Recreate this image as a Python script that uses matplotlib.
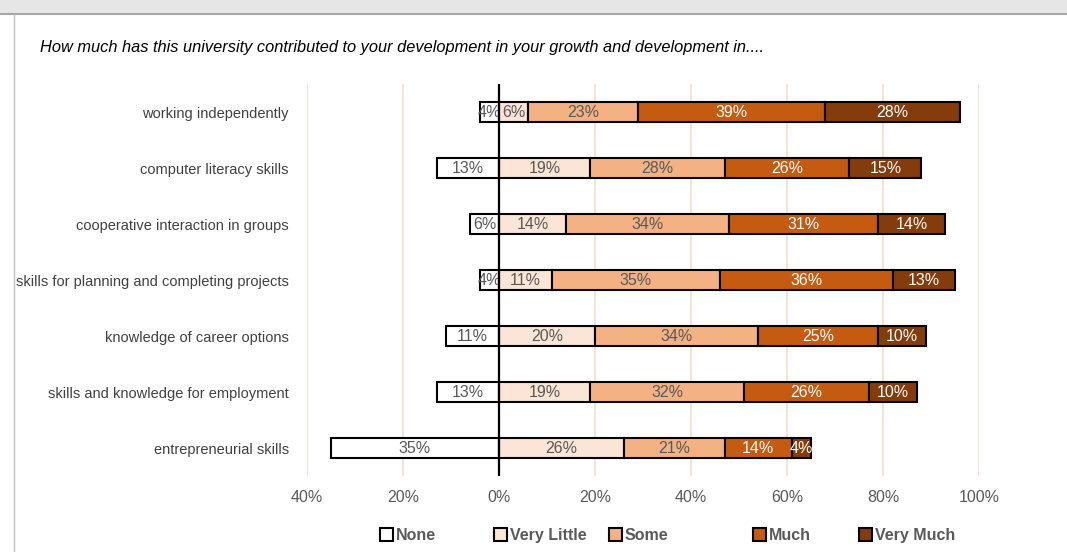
import matplotlib.pyplot as plt
from matplotlib.patches import Patch, Rectangle
from matplotlib.lines import Line2D

plt.rcParams['font.family'] = ['Liberation Sans', 'DejaVu Sans']

categories = ['working independently', 'computer literacy skills',
              'cooperative interaction in groups',
              'skills for planning and completing projects',
              'knowledge of career options',
              'skills and knowledge for employment',
              'entrepreneurial skills']
none = [4, 13, 6, 4, 11, 13, 35]
very_little = [6, 19, 14, 11, 20, 19, 26]
some = [23, 28, 34, 35, 34, 32, 21]
much = [39, 26, 31, 36, 25, 26, 14]
very_much = [28, 15, 14, 13, 10, 10, 4]
xticks = [-40, -20, 0, 20, 40, 60, 80, 100]

series = ['None', 'Very Little', 'Some', 'Much', 'Very Much']
colors = ['#FFFFFF', '#FBE5D6', '#F4B183', '#C55A11', '#843C0C']
text_colors = ['#595959', '#595959', '#595959', 'white', 'white']

fig = plt.figure(figsize=(10.67, 5.52), dpi=100)
# screenshot frame: grey strip on top and thin line on the left
fig.patches.append(Rectangle((0, 1 - 13 / 552), 1, 13 / 552, transform=fig.transFigure,
                             facecolor='#e6e6e6', edgecolor='none', zorder=0))
fig.lines.append(Line2D([0, 1], [1 - 14 / 552] * 2, transform=fig.transFigure,
                        color='#a6a6a6', lw=1.5))
fig.lines.append(Line2D([14 / 1067] * 2, [0, 1 - 14 / 552], transform=fig.transFigure,
                        color='#bfbfbf', lw=1))

ax = fig.add_axes([307 / 1067, 1 - 476 / 552, (979 - 307) / 1067, 392 / 552])

y = list(range(len(categories)))
h = 0.36
ax.barh(y, [-v for v in none], height=h, color=colors[0], edgecolor='black', lw=1.5, zorder=3)
for i, v in enumerate(none):
    ax.text(-v / 2, i, f'{v}%', ha='center', va='center', fontsize=11.5,
            color=text_colors[0], zorder=4)

left = [0] * len(categories)
for vals, c, tc in zip([very_little, some, much, very_much], colors[1:], text_colors[1:]):
    ax.barh(y, vals, left=left, height=h, color=c, edgecolor='black', lw=1.5, zorder=3)
    for i, v in enumerate(vals):
        ax.text(left[i] + v / 2, i, f'{v}%', ha='center', va='center', fontsize=11.5,
                color=tc, zorder=4)
    left = [a + b for a, b in zip(left, vals)]

ax.set_xlim(-40, 100)
ax.set_ylim(6.5, -0.5)
ax.set_xticks(xticks)
ax.set_xticklabels([f'{abs(t)}%' for t in xticks])
ax.set_yticks(y)
ax.set_yticklabels(categories)
for t in xticks:
    if t != 0:
        ax.axvline(t, color='#F5E0D3', lw=1.3, zorder=1)
ax.axvline(0, color='black', lw=1.6, zorder=5)
for s in ax.spines.values():
    s.set_visible(False)
ax.tick_params(axis='both', length=0, labelcolor='#595959', labelsize=11.5)
ax.tick_params(axis='y', pad=13, labelcolor='#404040', labelsize=10.5)
ax.tick_params(axis='x', pad=10)

fig.text(40 / 1067, 1 - 48 / 552,
         'How much has this university contributed to your development in your growth and development in....',
         style='italic', fontsize=11.8, color='black', va='center')

# legend entries placed one by one, like the spacing in the original
legend_x = [380, 494, 609, 753, 859]
for name, c, lx in zip(series, colors, legend_x):
    fig.legend([Patch(facecolor=c, edgecolor='black', lw=1.5)], [name],
               loc='upper left', bbox_to_anchor=(lx / 1067, 1 - 528 / 552),
               frameon=False, handlelength=0.8, handleheight=0.8, handletextpad=0.2,
               borderpad=0, borderaxespad=0, prop={'weight': 'bold', 'size': 11.5},
               labelcolor='#595959')

fig.savefig('out.png', dpi=100)
